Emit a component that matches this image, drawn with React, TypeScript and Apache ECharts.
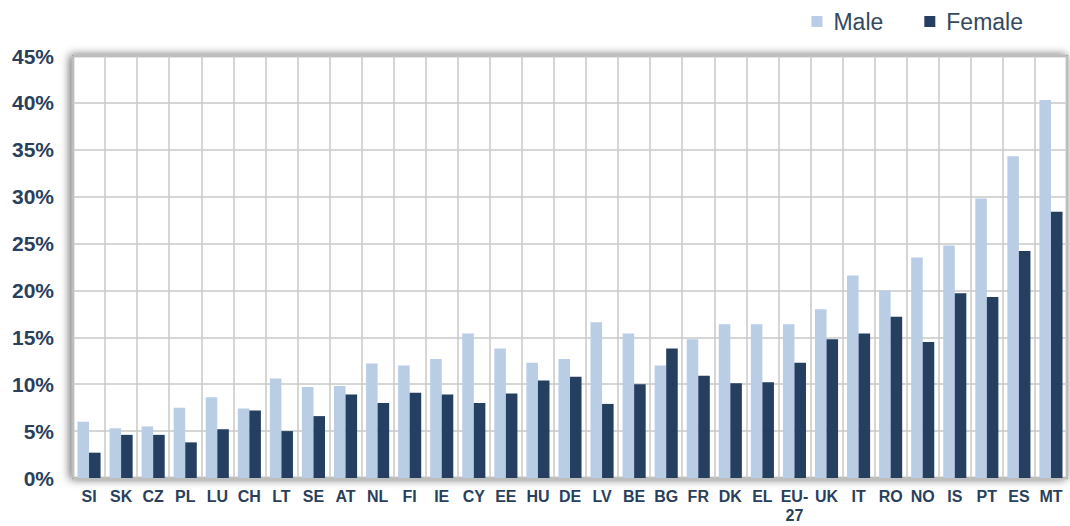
import React, { useEffect, useRef } from "react";
import * as echarts from "echarts";

const categories = ["SI","SK","CZ","PL","LU","CH","LT","SE","AT","NL","FI","IE","CY","EE","HU","DE","LV","BE","BG","FR","DK","EL","EU-\n27","UK","IT","RO","NO","IS","PT","ES","MT"];
const maleValues = [6.0,5.3,5.5,7.5,8.6,7.4,10.6,9.7,9.8,12.2,12.0,12.7,15.4,13.8,12.3,12.7,16.6,15.4,12.0,14.8,16.4,16.4,16.4,18.0,21.6,20.0,23.5,24.8,29.8,34.3,40.3];
const femaleValues = [2.7,4.6,4.6,3.8,5.2,7.2,5.0,6.6,8.9,8.0,9.1,8.9,8.0,9.0,10.4,10.8,7.9,10.0,13.8,10.9,10.1,10.2,12.3,14.8,15.4,17.2,14.5,19.7,19.3,24.2,28.4];
const seriesNames = ["Male", "Female"];
const colors = ["#B9CDE5", "#243F60"];

export default function App() {
  const ref = useRef<HTMLDivElement>(null);
  useEffect(() => {
    if (!ref.current) return;
    const chart = echarts.init(ref.current, undefined, { renderer: "svg" });
    const textColor = "#2A3F5C";
    const font = "Liberation Sans, Arial, sans-serif";
    chart.setOption({
      animation: false,
      color: colors,
      legend: {
        data: seriesNames,
        right: 42,
        top: 5,
        itemWidth: 11,
        itemHeight: 11,
        itemGap: 41,
        icon: "rect",
        textStyle: { fontFamily: font, fontSize: 23, color: "#34495F", padding: [0, 0, 0, 6] },
      },
      grid: {
        left: 73,
        right: 3,
        top: 56,
        bottom: 48,
        outerBoundsMode: "none",
        containLabel: false,
        show: true,
        backgroundColor: "#ffffff",
        borderColor: "#9C9C9C",
        borderWidth: 2.5,
        shadowBlur: 10,
        shadowColor: "rgba(0,0,0,0.6)",
        shadowOffsetX: -2,
        shadowOffsetY: 0,
      },
      xAxis: {
        type: "category",
        data: categories,
        axisLine: { show: false },
        axisTick: { show: false },
        splitLine: { show: true, interval: 0, lineStyle: { color: "#C8C8C8", width: 1.5 } },
        axisLabel: {
          interval: 0,
          margin: 9,
          fontFamily: font,
          fontWeight: "bold",
          fontSize: 16,
          lineHeight: 19,
          color: textColor,
        },
      },
      yAxis: {
        type: "value",
        min: 0,
        max: 45,
        interval: 5,
        axisLine: { show: false },
        axisTick: { show: false },
        splitLine: { show: true, lineStyle: { color: "#C8C8C8", width: 1.5 } },
        axisLabel: {
          formatter: "{value}%",
          margin: 19,
          fontFamily: font,
          fontWeight: "bold",
          fontSize: 21,
          color: textColor,
        },
      },
      series: [
        {
          name: seriesNames[0],
          type: "bar",
          data: maleValues,
          barGap: "0%",
          barCategoryGap: "28%",
          itemStyle: { color: colors[0] },
        },
        {
          name: seriesNames[1],
          type: "bar",
          data: femaleValues,
          barGap: "0%",
          barCategoryGap: "28%",
          itemStyle: { color: colors[1] },
        },
      ],
    });
    return () => chart.dispose();
  }, []);
  return <div ref={ref} style={{ width: 1070, height: 526, position: "absolute", left: 0, top: 0 }} />;
}
